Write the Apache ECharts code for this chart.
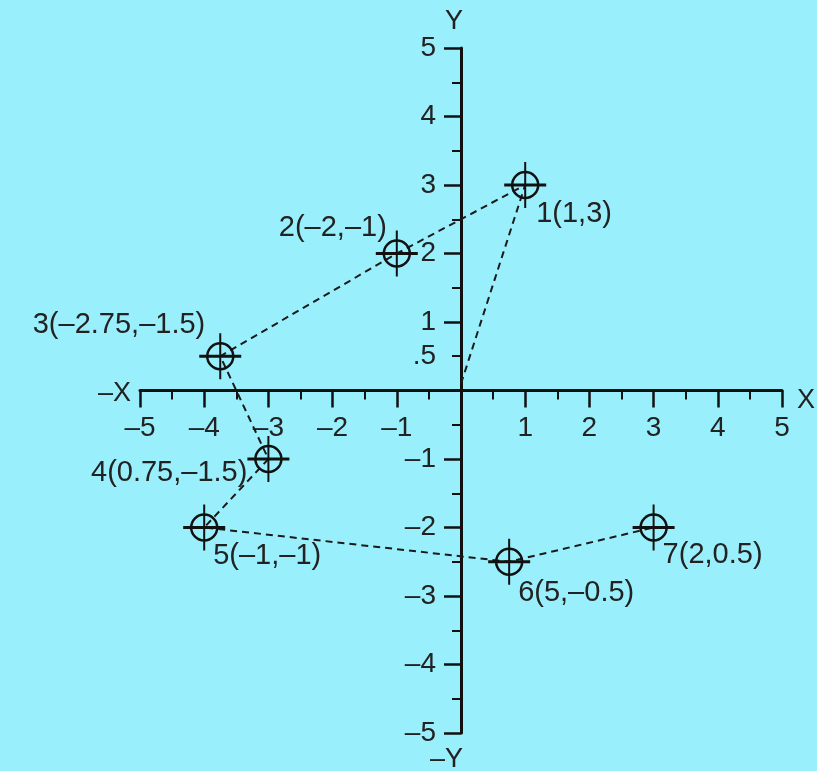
<!DOCTYPE html>
<html>
<head>
<meta charset="utf-8">
<script src="https://cdn.jsdelivr.net/npm/echarts@6/dist/echarts.min.js"></script>
<style>
html, body { margin: 0; padding: 0; background: #99f0fc; }
#main { width: 817px; height: 771px; }
</style>
</head>
<body>
<div id="main"></div>
<script>
var pointX = [1, -1, -3.75, -3, -4, 0.75, 3];
var pointY = [3, 2, 0.5, -1, -2, -2.5, -2];
var pointLabels = ['1(1,3)', '2(–2,–1)', '3(–2.75,–1.5)', '4(0.75,–1.5)', '5(–1,–1)', '6(5,–0.5)', '7(2,0.5)'];
var pathStart = [0, 0.1];
var xLabelValues = [-5, -4, -3, -2, -1, 1, 2, 3, 4, 5];
var yLabelValues = [-5, -4, -3, -2, -1, 0.5, 1, 2, 3, 4, 5];

// where each label sits next to its marker (dx, dy, align)
var labelPlace = [
    [11, 29, 'left'],
    [-10, -26, 'right'],
    [-15, -31, 'right'],
    [-21, 14, 'right'],
    [9, 28, 'left'],
    [9, 31, 'left'],
    [9, 27, 'left']
];

var ink = '#111';
var fontName = '"Liberation Sans", Arial, sans-serif';

var points = [];
for (var i = 0; i < pointX.length; i++) {
    points.push([pointX[i], pointY[i]]);
}
var pathData = [pathStart].concat(points);

function tickText(v) {
    var s = v === 0.5 ? '.5' : String(v);
    return s.replace('-', '–');
}

function renderMarker(params, api) {
    var p = api.coord([api.value(0), api.value(1)]);
    var pl = labelPlace[params.dataIndex];
    return {
        type: 'group',
        children: [
            {type: 'circle', shape: {cx: p[0], cy: p[1], r: 13},
                style: {fill: 'none', stroke: ink, lineWidth: 2.5}},
            {type: 'line', shape: {x1: p[0] - 21, y1: p[1], x2: p[0] + 21, y2: p[1]},
                style: {stroke: ink, lineWidth: 3}},
            {type: 'line', shape: {x1: p[0], y1: p[1] - 23, x2: p[0], y2: p[1] + 23},
                style: {stroke: ink, lineWidth: 2}},
            {type: 'text', x: p[0] + pl[0], y: p[1] + pl[1],
                style: {text: pointLabels[params.dataIndex], fontSize: 29, fontFamily: fontName,
                    fill: '#222', align: pl[2], verticalAlign: 'middle'}}
        ]
    };
}

var axisCommon = {
    type: 'value',
    min: -5,
    max: 5,
    interval: 1,
    splitLine: {show: false},
    axisLine: {show: true, onZero: false, lineStyle: {color: ink, width: 3}},
    axisTick: {show: true, inside: false, length: 17, lineStyle: {color: ink, width: 2.5}},
    minorTick: {show: true, splitNumber: 2, length: 9, lineStyle: {color: ink, width: 2}},
    axisLabel: {
        color: '#222',
        fontSize: 28,
        fontFamily: fontName,
        margin: 24,
        formatter: tickText
    }
};

// grid is 642 x 685 px, so zero sits 321 px from the left and 342.5 px from the bottom
var xAxisOpt = echarts.util.merge({}, axisCommon, true);
xAxisOpt.position = 'bottom';
xAxisOpt.offset = -342.5;
xAxisOpt.axisLabel.customValues = xLabelValues;
var yAxisOpt = echarts.util.merge({}, axisCommon, true);
yAxisOpt.position = 'left';
yAxisOpt.offset = -321;
yAxisOpt.axisLabel.customValues = yLabelValues;
yAxisOpt.axisLabel.margin = 25;

var chart = echarts.init(document.getElementById('main'));
chart.setOption({
    backgroundColor: '#99f0fc',
    animation: false,
    grid: {left: 140, right: 35, top: 48, bottom: 38, outerBoundsMode: 'none', containLabel: false},
    xAxis: xAxisOpt,
    yAxis: yAxisOpt,
    graphic: [
        {type: 'text', left: 445, top: 8, style: {text: 'Y', fontSize: 27, fontFamily: fontName, fill: '#222'}},
        {type: 'text', left: 797, top: 387, style: {text: 'X', fontSize: 27, fontFamily: fontName, fill: '#222'}},
        {type: 'text', left: 98, top: 380, style: {text: '–X', fontSize: 27, fontFamily: fontName, fill: '#222'}},
        {type: 'text', left: 430, top: 746, style: {text: '–Y', fontSize: 27, fontFamily: fontName, fill: '#222'}}
    ],
    series: [
        {
            type: 'line',
            data: pathData,
            symbol: 'none',
            silent: true,
            lineStyle: {color: '#1a1a1a', width: 2, type: [7, 5]},
            z: 2
        },
        {
            type: 'custom',
            data: points,
            renderItem: renderMarker,
            clip: false,
            silent: true,
            z: 3
        }
    ]
});
</script>
</body>
</html>
